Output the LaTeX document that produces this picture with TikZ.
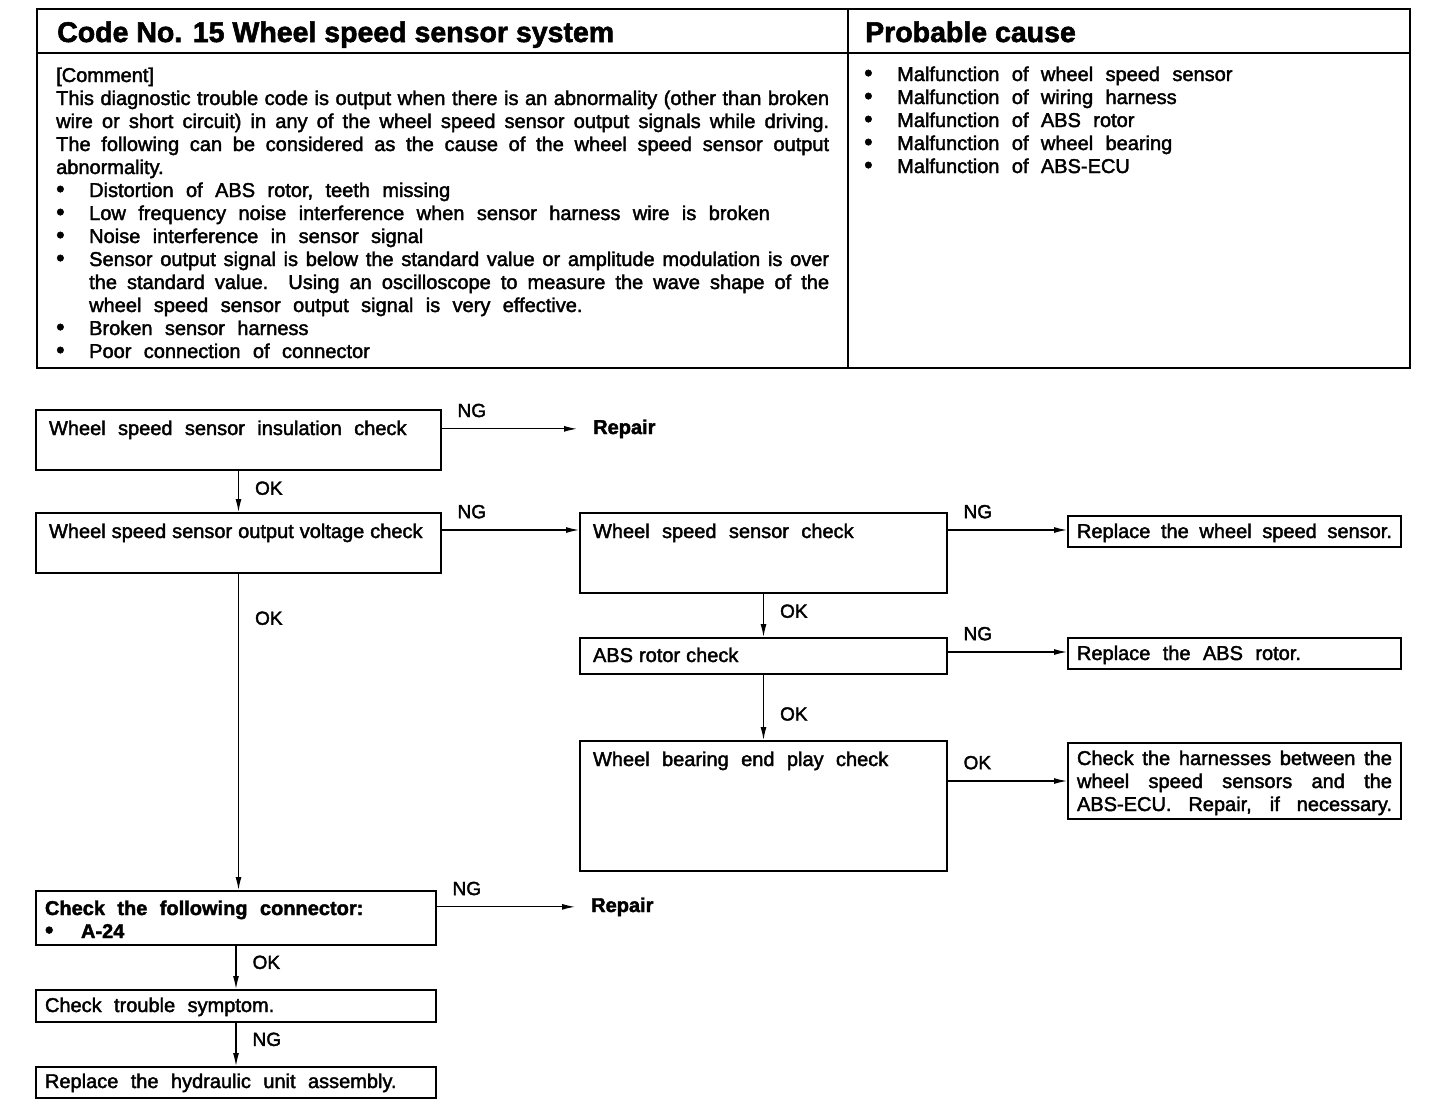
\documentclass[tikz,border=0pt]{standalone}
\usepackage{graphicx}
\usepackage{fontspec}
\setmainfont{Liberation Sans}[FakeBold=2]
\usetikzlibrary{arrows.meta,positioning}

\newcommand\bodyfont{\fontsize{20}{23}\selectfont}
\newcommand\widesp{\spaceskip=.62em plus .3em minus .36em\relax}
\newcommand\tightsp{\spaceskip=.3em plus .2em minus .05em\relax}
\newcommand\dotmark{\scalebox{1.2}{\textbullet}}
\newcommand\cbul{\makebox[33pt][l]{\dotmark}}
\newcommand\jl[2]{\makebox[#1][s]{#2}}

\begin{document}
\begin{tikzpicture}[x=1pt,y=-1pt,
  txt/.style={font=\bodyfont, execute at begin node=\widesp},
  chk/.style={txt, draw, line width=2pt, anchor=north west, inner xsep=13pt, inner ysep=0pt},
  res/.style={chk, inner xsep=9pt},
  arr/.style={-{Latex[length=13pt,width=6pt]}, line width=1.2pt},
  tag/.style={font=\fontsize{19}{19}\selectfont, inner sep=0pt},
  ng/.style={tag, pos=0, anchor=south west, xshift=15pt, yshift=11pt},
  ok/.style={tag, anchor=west, xshift=16pt},
  rep/.style={font=\bodyfont\bfseries, anchor=base west, inner xsep=16pt, inner ysep=0pt},
  head/.style={anchor=base west, inner sep=0pt, font=\fontsize{28.5}{30}\selectfont\bfseries}]
  \fill[white] (0,0) rectangle (1440,1104);
  \useasboundingbox (0,0) rectangle (1440,1104);

  % table at the top
  \draw[line width=2pt] (37,9) rectangle (1410,368);
  \draw[line width=2pt] (37,53) -- (1410,53) (848,9) -- (848,368);
  \node[head] (hdcode) at (57,42) {Code No. 15 Wheel speed sensor system};
  \node[head] (hdcause) at (865,42) {Probable cause};
  \node[txt, anchor=base west, inner sep=0pt, text width=775pt] (cmt) at (56,82) {%
    [Comment]\\
    \jl{773pt}{This diagnostic trouble code is output when there is an abnormality (other than broken}\\
    \jl{773pt}{wire or short circuit) in any of the wheel speed sensor output signals while driving.}\\
    \jl{773pt}{The following can be considered as the cause of the wheel speed sensor output}\\
    abnormality.\\
    \cbul Distortion of ABS rotor, teeth missing\\
    \cbul Low frequency noise interference when sensor harness wire is broken\\
    \cbul Noise interference in sensor signal\\
    \cbul\jl{740pt}{Sensor output signal is below the standard value or amplitude modulation is over}\\
    \hspace*{33pt}\jl{740pt}{the standard value.\ \ Using an oscilloscope to measure the wave shape of the}\\
    \hspace*{33pt}wheel speed sensor output signal is very effective.\\
    \cbul Broken sensor harness\\
    \cbul Poor connection of connector};
  \node[txt, anchor=base west, inner sep=0pt, text width=500pt] (cause) at (864,81) {%
    \cbul Malfunction of wheel speed sensor\\
    \cbul Malfunction of wiring harness\\
    \cbul Malfunction of ABS rotor\\
    \cbul Malfunction of wheel bearing\\
    \cbul Malfunction of ABS-ECU};

  % check steps
  \node[chk, text width=379pt, text height=25pt, text depth=35pt] (ins) at (35,409) {Wheel speed sensor insulation check};
  \node[chk, text width=379pt, text height=25pt, text depth=35pt] (volt) at (35,512) {\tightsp Wheel speed sensor output voltage check};
  \node[chk, text width=341pt, text height=25pt, text depth=55pt] (wss) at (579,512) {Wheel speed sensor check};
  \node[chk, text width=341pt, text height=24pt, text depth=12pt] (rotor) at (579,637) {\tightsp ABS rotor check};
  \node[chk, text width=341pt, text height=25pt, text depth=105pt] (brg) at (579,740) {Wheel bearing end play check};
  \node[res, text width=382pt, text height=24pt, text depth=30pt, font=\bodyfont\bfseries] (conn) at (35,890) {Check the following connector:\\ \makebox[36pt][l]{\dotmark}A-24};
  \node[res, text width=382pt, text height=22pt, text depth=10pt] (sym) at (35,989) {Check trouble symptom.};
  \node[res, text width=382pt, text height=21pt, text depth=10pt] (hyd) at (35,1066) {Replace the hydraulic unit assembly.};

  % results
  \node[res, text width=315pt, text height=22pt, text depth=9pt] (newsens) at (1067,515) {\tightsp\jl{\linewidth}{Replace the wheel speed sensor.}};
  \node[res, text width=315pt, text height=22pt, text depth=9pt] (newrotor) at (1067,637) {Replace the ABS rotor.};
  \node[res, text width=315pt, text height=22pt, text depth=54pt] (harn) at (1067,742) {%
    \jl{\linewidth}{Check the harnesses between the}\\
    \jl{\linewidth}{wheel speed sensors and the}\\
    \jl{\linewidth}{ABS-ECU. Repair, if necessary.}};
  \node[rep] (rep1) at (577,434) {Repair};
  \node[rep] (rep2) at (575,912) {Repair};

  % connectors
  \draw[arr] (ins.east |- rep1) -- (rep1.west) node[ng] {NG};
  \draw[arr] (ins.south) -- (volt.north) node[ok, pos=.42] {OK};
  \path (volt.north east) ++(0,18) coordinate (v1);
  \draw[arr] (v1) -- (v1 -| wss.west) node[ng] {NG};
  \draw[arr] (volt.south) -- (volt.south |- conn.north) node[ok, pos=.14] {OK};
  \path (wss.north east) ++(0,18) coordinate (w1);
  \draw[arr] (w1) -- (w1 -| newsens.west) node[ng] {NG};
  \draw[arr] (wss.south) -- (rotor.north) node[ok, pos=.4] {OK};
  \path (rotor.north east) ++(0,15) coordinate (r1);
  \draw[arr] (r1) -- (r1 -| newrotor.west) node[ng] {NG};
  \draw[arr] (rotor.south) -- (brg.north) node[ok, pos=.6] {OK};
  \path (brg.north east) ++(0,41) coordinate (b1);
  \draw[arr] (b1) -- (b1 -| harn.west) node[ng] {OK};
  \draw[arr] (conn.east |- rep2) -- (rep2.west) node[ng] {NG};
  \draw[arr] (conn.south) -- (sym.north) node[ok, pos=.38] {OK};
  \draw[arr] (sym.south) -- (hyd.north) node[ok, pos=.38] {NG};
\end{tikzpicture}
\end{document}
